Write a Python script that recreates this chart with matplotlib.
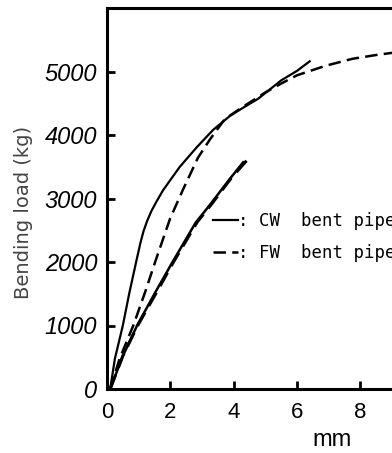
import matplotlib.pyplot as plt

# load-deflection curves (mm, kg)
cw_x = [0.1, 0.25, 0.5, 0.7, 0.92, 1.05, 1.15, 1.27, 1.4, 1.55, 1.77, 2.3, 2.84, 3.35, 3.88, 4.3, 4.77, 5.5, 6.0, 6.4]
cw_y = [0, 480, 1000, 1500, 2000, 2290, 2480, 2650, 2800, 2940, 3130, 3500, 3810, 4080, 4300, 4430, 4570, 4860, 5010, 5160]

fw_x = [0.1, 0.4, 0.83, 1.2, 1.52, 1.99, 2.4, 2.87, 3.25, 3.72, 4.1, 4.5, 5.0, 5.5, 6.0, 6.9, 7.75, 8.5, 9.1]
fw_y = [0, 480, 1000, 1520, 2000, 2680, 3140, 3640, 3930, 4250, 4380, 4510, 4670, 4810, 4940, 5090, 5200, 5260, 5300]

cw2_x = [0.1, 0.5, 0.95, 1.5, 2.07, 2.8, 3.25, 3.88, 4.3]
cw2_y = [0, 520, 1000, 1500, 2000, 2620, 2900, 3310, 3570]

fw2_x = [0.1, 0.5, 0.97, 1.55, 2.1, 2.85, 3.3, 3.92, 4.45]
fw2_y = [0, 520, 1000, 1510, 2000, 2630, 2910, 3320, 3620]

yticks = [0, 1000, 2000, 3000, 4000, 5000]
xticks = [0, 2, 4, 6, 8]

fig = plt.figure(figsize=(3.92, 4.53), dpi=100)
ax = fig.add_axes([107/392, 64/453, 1 - 107/392, (389 - 8)/453])

ax.plot(cw_x, cw_y, color='black', lw=1.6, label=': CW  bent pipe')
ax.plot(fw_x, fw_y, color='black', lw=1.8, dashes=(5, 2.5), label=': FW  bent pipe')
ax.plot(cw2_x, cw2_y, color='black', lw=1.8)
ax.plot(fw2_x, fw2_y, color='black', lw=2.2, dashes=(5, 2.5))

ax.set_xlim(0, 9.0)
ax.set_ylim(0, 6000)
ax.set_xticks(xticks)
ax.set_yticks(yticks)
ax.set_xticklabels([str(v) for v in xticks], family='Liberation Sans', fontsize=16)
ax.set_yticklabels([str(v) for v in yticks], family='Liberation Sans', style='italic', fontsize=17)
ax.tick_params(direction='in', length=6, width=2, pad=7)
ax.tick_params(axis='x', pad=9)

for side in ['left', 'bottom', 'top']:
    ax.spines[side].set_linewidth(2.2)
ax.spines['right'].set_visible(False)

fig.text(24/392, 1 - 212/453, 'Bending load (kg)', rotation=90, ha='center', va='center',
         fontsize=14, color='#444444', family='DejaVu Sans')
fig.text(332/392, 1 - 440/453, 'mm', ha='center', va='center', fontsize=17, family='Liberation Sans')

ax.legend(loc='upper left', bbox_to_anchor=(106/285, (389 - 212)/381), frameon=False,
          prop={'family': 'DejaVu Sans Mono', 'size': 12.5}, handlelength=1.45,
          handletextpad=0.0, labelspacing=0.8, borderaxespad=0, borderpad=0)

fig.savefig('out.png', dpi=100)
